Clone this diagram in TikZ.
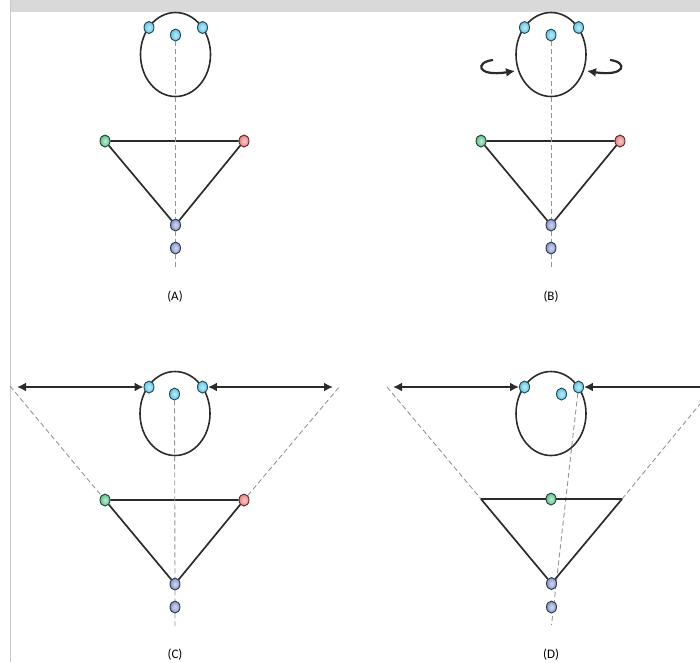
\documentclass[tikz,border=0pt]{standalone}
\usepackage{fontspec}
\setsansfont{Carlito}
\usetikzlibrary{arrows.meta,shapes.geometric}

\definecolor{sensblue}{HTML}{5EC4E6}
\definecolor{sensgreen}{HTML}{5CBF8A}
\definecolor{sensred}{HTML}{EE7B7B}
\definecolor{sensgray}{HTML}{8595CC}
\definecolor{linegray}{HTML}{959595}
\definecolor{inkdark}{HTML}{2B2B2B}
\definecolor{bandgray}{HTML}{D9D9D9}
\definecolor{framegray}{HTML}{C8C8C8}

\begin{document}
\begin{tikzpicture}[
  x=1pt, y=-1pt,
  font=\sffamily\fontsize{13}{15}\selectfont,
  head/.style={ellipse, draw=inkdark, line width=1.6pt, minimum width=70pt, minimum height=84pt, inner sep=0pt},
  sensor/.style={ellipse, draw=#1!35!black, line width=0.9pt, inner color=#1!35!white, outer color=#1, minimum width=10pt, minimum height=12pt, inner sep=0pt},
  midline/.style={draw=linegray, line width=0.9pt, dash pattern=on 5pt off 3pt},
  tri/.style={draw=inkdark, line width=1.7pt},
  arr/.style={draw=inkdark, line width=2.2pt, -{Latex[length=9pt,width=9pt]}},
  darr/.style={draw=inkdark, line width=2.2pt, {Latex[length=9pt,width=9pt]}-{Latex[length=9pt,width=9pt]}},
]
\useasboundingbox (0,0) rectangle (700,662);
\fill[bandgray] (10,0) rectangle (700,12);
\draw[framegray, line width=1pt] (10.5,0) -- (10.5,662);

% (A)
\node[head] (a-head) at (175.5,54.5) {};
\node[sensor=sensblue] (a-l) at (149,27.5) {};
\node[sensor=sensblue] (a-r) at (202.5,27.5) {};
\node[sensor=sensblue] (a-m) at (175.5,35) {};
\node[sensor=sensgreen] (a-g) at (105,141) {};
\node[sensor=sensred] (a-rd) at (244,141) {};
\node[sensor=sensgray] (a-b) at (175.5,225) {};
\node[sensor=sensgray] (a-lo) at (175.5,248) {};
\coordinate (a-end) at (175.5,267);
\draw[tri] (a-g) -- (a-rd) -- (a-b) -- (a-g);
\draw[midline] (a-m) -- (a-b) -- (a-lo) -- (a-end);
\node (a-lbl) at (175,297) {(A)};

% (B)
\begin{scope}[shift={(375,0)}]
\node[head] (b-head) at (176,54.5) {};
\node[sensor=sensblue] (b-l) at (149.5,27.5) {};
\node[sensor=sensblue] (b-r) at (203.5,27.5) {};
\node[sensor=sensblue] (b-m) at (176,35) {};
\node[sensor=sensgreen] (b-g) at (106,141) {};
\node[sensor=sensred] (b-rd) at (245,141) {};
\node[sensor=sensgray] (b-b) at (176,225) {};
\node[sensor=sensgray] (b-lo) at (176,248) {};
\coordinate (b-end) at (176,267);
\draw[tri] (b-g) -- (b-rd) -- (b-b) -- (b-g);
\draw[midline] (b-m) -- (b-b) -- (b-lo) -- (b-end);
\coordinate (b-cl1) at (118,60);
\coordinate (b-cl2) at (140,71);
\coordinate (b-cr1) at (235,60);
\coordinate (b-cr2) at (212,71);
\draw[arr] (b-cl1) .. controls (100,62) and (101,77) .. (b-cl2);
\draw[arr] (b-cr1) .. controls (253,62) and (251,77) .. (b-cr2);
\node (b-lbl) at (176,297) {(B)};
\end{scope}

% (C)
\begin{scope}[shift={(0,359)}]
\node[head] (c-head) at (175,54.5) {};
\node[sensor=sensblue] (c-l) at (149,28) {};
\node[sensor=sensblue] (c-r) at (202.5,28) {};
\node[sensor=sensblue] (c-m) at (174.5,35) {};
\coordinate (c-far) at (10,27);
\coordinate (c-farr) at (340,27);
\node[sensor=sensgreen] (c-g) at (105,141) {};
\node[sensor=sensred] (c-rd) at (244,141) {};
\node[sensor=sensgray] (c-b) at (175,225) {};
\node[sensor=sensgray] (c-lo) at (175,248) {};
\coordinate (c-end) at (175,267);
\draw[midline] (c-far) -- (c-g);
\draw[midline] (c-rd) -- (c-farr);
\draw[tri] (c-g) -- (c-rd) -- (c-b) -- (c-g);
\draw[midline] (c-m) -- (c-b) -- (c-lo) -- (c-end);
\coordinate (c-arl) at (17,28);
\coordinate (c-arr) at (333,28);
\draw[darr] (c-arl) -- (c-l);
\draw[darr] (c-r) -- (c-arr);
\node (c-lbl) at (175,296) {(C)};
\end{scope}

% (D)
\begin{scope}[shift={(375,359)}]
\node[head] (d-head) at (176,54.5) {};
\node[sensor=sensblue] (d-l) at (149.5,28) {};
\node[sensor=sensblue] (d-r) at (203.5,28) {};
\node[sensor=sensblue] (d-m) at (186.5,35) {};
\coordinate (d-end) at (176.5,266);
\draw[midline] (d-r) -- (d-end);
\coordinate (d-tl) at (106,140);
\coordinate (d-tr) at (247,140);
\coordinate (d-far) at (12,28);
\coordinate (d-farr) at (325,45);
\draw[midline] (d-far) -- (d-tl);
\draw[midline] (d-tr) -- (d-farr);
\node[sensor=sensgray] (d-b) at (176.5,224.5) {};
\node[sensor=sensgray] (d-lo) at (176.5,248) {};
\draw[tri] (d-tl) -- (d-tr);
\node[sensor=sensgreen] (d-g) at (176,140) {};
\draw[tri] (d-tl) -- (d-b) -- (d-tr);
\coordinate (d-arl) at (18,28);
\coordinate (d-arr) at (325,28);
\draw[darr] (d-arl) -- (d-l);
\draw[arr] (d-arr) -- (d-r);
\node (d-lbl) at (176,296) {(D)};
\end{scope}
\end{tikzpicture}
\end{document}
